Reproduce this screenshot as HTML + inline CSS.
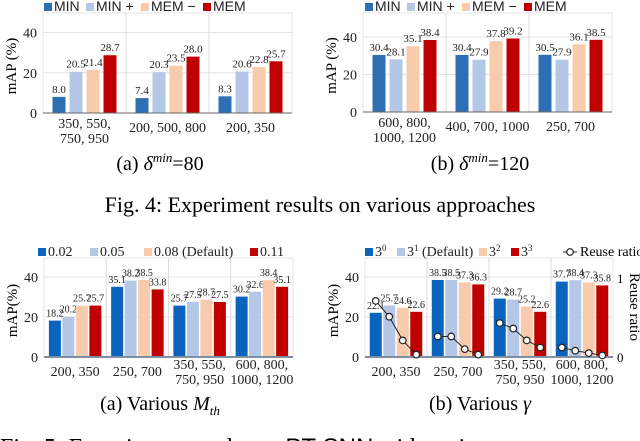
<!DOCTYPE html>
<html><head><meta charset="utf-8"><style>
body{margin:0;background:#fff;width:640px;height:441px;overflow:hidden;font-family:"Liberation Serif",serif}
svg{position:absolute;left:0;top:0}
</style></head><body>
<svg id="s" width="640" height="441" viewBox="0 0 640 441">
<text x="160" y="170" font-size="20" text-anchor="middle">(a)  <tspan font-style="italic">δ</tspan><tspan font-style="italic" font-size="13" dy="-8">min</tspan><tspan dy="8">=80</tspan></text>
<text x="480" y="170" font-size="20" text-anchor="middle">(b)  <tspan font-style="italic">δ</tspan><tspan font-style="italic" font-size="13" dy="-8">min</tspan><tspan dy="8">=120</tspan></text>
<text x="320" y="212" font-size="22" text-anchor="middle">Fig. 4: Experiment results on various approaches</text>
<text x="160" y="410" font-size="20" text-anchor="middle">(a) Various <tspan font-style="italic">M</tspan><tspan font-style="italic" font-size="13" dy="5">th</tspan></text>
<text x="480" y="410" font-size="20" text-anchor="middle">(b) Various <tspan font-style="italic">γ</tspan></text>
<text x="0" y="455" font-size="24">Fig. 5: Experiment results on <tspan font-family="Liberation Sans">PT-SNN</tspan> with various parameters</text>
</svg>
<script>
const NS='http://www.w3.org/2000/svg';
const svg=document.getElementById('s');
const c1Cats=[["350, 550,","750, 950"],["200, 500, 800"],["200, 350"]];
const c1Series=["MIN","MIN +","MEM \u2212","MEM"];
const c1Vals=[[8.0,7.4,8.3],[20.5,20.3,20.6],[21.4,23.5,22.8],[28.7,28.0,25.7]];
const c2Cats=[["600, 800,","1000, 1200"],["400, 700, 1000"],["250, 700"]];
const c2Vals=[[30.4,30.4,30.5],[28.1,27.9,27.9],[35.1,37.8,36.1],[38.4,39.2,38.5]];
const c3Cats=[["200, 350"],["250, 700"],["350, 550,","750, 950"],["600, 800,","1000, 1200"]];
const c3Series=["0.02","0.05","0.08 (Default)","0.11"];
const c3Vals=[[18.2,35.1,25.7,30.2],[20.2,38.2,27.5,32.6],[25.7,38.5,28.7,38.4],[25.7,33.8,27.5,35.1]];
const c4Cats=c3Cats;
const c4Vals=[[22.1,38.5,29.2,37.7],[25.7,38.5,28.7,38.4],[24.6,37.3,25.2,37.3],[22.6,36.3,22.6,35.8]];
const c4Reuse=[[0.71,0.51,0.21,0.03],[0.26,0.26,0.10,0.03],[0.43,0.36,0.21,0.12],[0.12,0.08,0.05,0.02]];
const yTicks=[0,20,40];
const topCols=['#2e6eb5','#b4c7e7','#f8cbad','#c00000'];
const botCols=['#0a64bd','#b4c7e7','#f8cbad','#c00000'];
function el(t,a,p){const e=document.createElementNS(NS,t);for(const k in a)e.setAttribute(k,a[k]);(p||svg).appendChild(e);return e;}
function chart(o){
  const g=el('g',{});
  
  
  const y=v=>o.base-(v/40)*(o.base-o.y40);
  const n=o.cats.length,gw=(o.x1-o.x0)/n;
  el('rect',{x:o.x0,y:o.top,width:o.x1-o.x0,height:o.base-o.top,fill:'none',stroke:'#e4e4e4'},g);
  yTicks.forEach(t=>{
    if(t>0){const l=el('line',{x1:o.x0,x2:o.x1,y1:y(t),y2:y(t),stroke:'#e4e4e4'},g);}
    const tx=el('text',{x:o.x0-6,y:y(t)+5,'font-size':14,'text-anchor':'end',fill:'#222'},g);tx.textContent=t;
    
  });
  for(let i=1;i<n;i++)el('line',{x1:o.x0+gw*i,x2:o.x0+gw*i,y1:o.top,y2:o.base,stroke:'#dcdcdc'},g);
  const yt=el('text',{x:0,y:0,'font-size':15,'text-anchor':'middle',transform:`translate(${o.x0-27},${(o.base+o.top)/2+3}) rotate(-90)`},g);
  yt.textContent=o.ylab;
  const bw=o.bw,step=o.step;
  const centers=[];
  for(let i=0;i<n;i++){
    const cx=o.x0+gw*(i+0.5);centers.push([]);
    for(let s=0;s<4;s++){
      const bx=cx+(s-1.5)*step-bw/2,v=o.vals[s][i];
      const r=el('rect',{x:bx,y:y(v),width:bw,height:o.base-y(v),fill:o.cols[s]},g);
      
      const t=el('text',{x:bx+bw/2,y:y(v)-4,'font-size':o.vfs,'text-anchor':'middle',fill:'#222'},g);t.textContent=v.toFixed(1);
      
      centers[i].push(bx+bw/2);
    }
    const lines=o.cats[i];
    lines.forEach((ln,k)=>{
      const yy=lines.length==1?o.base+19:o.base+(o.two?12:15)+k*15;
      const t=el('text',{x:cx,y:yy,'font-size':14,'text-anchor':'middle',fill:'#222'},g);t.textContent=ln;
      
    });
  }
  el('line',{x1:o.x0,x2:o.x1,y1:o.base,y2:o.base,stroke:o.axisCol,'stroke-width':o.axisW},g);
  let lx=o.legX;
  o.series.forEach((s,k)=>{
    const r=el('rect',{x:lx,y:o.legY-8,width:8,height:8,fill:o.cols[k]},g);
    
    const t=el('text',{x:lx+10,y:o.legY,'font-size':o.legFs,'font-family':o.legFont,fill:'#222'},g);t.innerHTML=s;
    
    lx+=o.legW[k];
  });
  return {y,centers,g};
}
chart({name:'chart-delta80',x0:43,x1:292,top:13,base:113,y40:32.5,cats:c1Cats,vals:c1Vals,cols:topCols,bw:13,step:17,vfs:11,ylab:'mAP (%)',axisCol:'#666',axisW:1,series:c1Series,legX:44,legY:11,legFs:14,legFont:'Liberation Sans',legW:[42,55,62,50]});
chart({name:'chart-delta120',x0:363,x1:612,top:13,base:112,y40:37,cats:c2Cats,vals:c2Vals,cols:topCols,bw:13,step:17,vfs:11,ylab:'mAP (%)',axisCol:'#666',axisW:1,series:c1Series,legX:365,legY:11,legFs:14,legFont:'Liberation Sans',legW:[42,55,62,50]});
chart({name:'chart-mth',x0:44,x1:293,top:258,base:357,y40:277,cats:c3Cats,vals:c3Vals,cols:botCols,bw:12,step:13.5,vfs:10,ylab:'mAP(%)',axisCol:'#7f8ea3',axisW:2,two:true,series:c3Series,legX:38,legY:256,legFs:14,legFont:'Liberation Serif',legW:[52,54,106,50]});
const c4=chart({name:'chart-gamma',x0:365,x1:613,top:258,base:357,y40:277,cats:c4Cats,vals:c4Vals,cols:botCols,bw:12,step:13.5,vfs:10,ylab:'mAP(%)',axisCol:'#7f8ea3',axisW:2,two:true,series:['3<tspan dy="-5" font-size="9">0</tspan>','<tspan>3</tspan><tspan dy="-5" font-size="9">1</tspan><tspan dy="5"> (Default)</tspan>','3<tspan dy="-5" font-size="9">2</tspan>','3<tspan dy="-5" font-size="9">3</tspan>'],legX:365,legY:256,legFs:14,legFont:'Liberation Serif',legW:[32,82,32,32]});
const ry=v=>357-v*(357-278);
[['0',357],['1',278]].forEach(([t,yy])=>{const e=el('text',{x:617,y:yy+5,'font-size':13});e.textContent=t;});
const rt=el('text',{x:0,y:0,'font-size':15,'text-anchor':'middle',transform:'translate(630,307) rotate(90)'});
rt.textContent='Reuse ratio';
c4Reuse.forEach((vals,i)=>{
  const pts=vals.map((v,k)=>[c4.centers[i][k],ry(v)]);
  const pl=el('polyline',{points:pts.map(p=>p.join(',')).join(' '),fill:'none',stroke:'#222','stroke-width':1});
  
  pts.forEach(p=>{const c=el('circle',{cx:p[0],cy:p[1],r:3.3,fill:'#fff',stroke:'#222','stroke-width':1.2});});
});
el('line',{x1:563,x2:577,y1:252,y2:252,stroke:'#222'});
el('circle',{cx:570,cy:252,r:3.3,fill:'#fff',stroke:'#222','stroke-width':1.2});
const lt=el('text',{x:580,y:256,'font-size':14});lt.textContent='Reuse ratio';

</script>
</body></html>
